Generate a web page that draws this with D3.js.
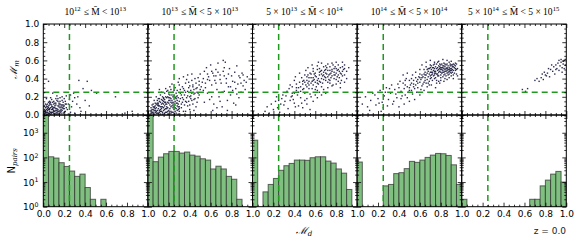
<!DOCTYPE html>
<html>
<head>
<meta charset="utf-8">
<script src="https://cdn.jsdelivr.net/npm/d3@7"></script>
<style>
  body { margin: 0; background: #fff; }
  svg { display: block; }
  text { font-family: "DejaVu Sans", sans-serif; }
</style>
</head>
<body>
<div id="chart"></div>
<script>
// panel titles (mass bins)
const titles = [
  "10^{12} ≤ M̄ < 10^{13}",
  "10^{13} ≤ M̄ < 5 × 10^{13}",
  "5 × 10^{13} ≤ M̄ < 10^{14}",
  "10^{14} ≤ M̄ < 5 × 10^{14}",
  "5 × 10^{14} ≤ M̄ < 5 × 10^{15}"
];

// histogram bin left edges (width 0.05)
const binStarts = [0, 0.05, 0.1, 0.15, 0.2, 0.25, 0.3, 0.35, 0.4, 0.45,
                   0.5, 0.55, 0.6, 0.65, 0.7, 0.75, 0.8, 0.85, 0.9, 0.95];
const binWidth = 0.05;

// N_pairs per bin, one list per panel
const counts1 = [20000, 106, 94, 61, 43, 28, 17, 21, 6, 2, 0, 2, 0, 0, 0, 0, 0, 0, 0, 0];
const counts2 = [20000, 67, 103, 141, 175, 175, 150, 165, 124, 113, 88, 78, 34, 44, 34, 17, 13, 2, 0, 0];
const counts3 = [500, 0, 4, 8, 14, 30, 46, 57, 78, 78, 76, 97, 106, 106, 71, 59, 34, 23, 5, 0];
const counts4 = [65, 0, 0, 0, 0, 7, 8, 22, 24, 35, 69, 63, 78, 100, 124, 145, 141, 120, 50, 8];
const counts5 = [2, 0, 0, 0, 0, 0, 0, 0, 0, 0, 0, 0, 0, 2, 2, 7, 12, 21, 27, 10];

// scatter points (M_d, M_m) in percent
const scatter1 = "1 1,2 3,3 1,4 5,5 2,6 4,7 1,8 6,9 3,10 2,11 8,12 5,13 1,14 4,15 9,16 3,17 6,18 11,19 2,20 7,2 8,3 6,5 10,6 7,7 12,8 3,9 9,10 5,11 13,12 2,13 7,14 10,15 4,16 12,17 9,18 5,19 14,20 10,21 15,22 8,1 4,2 2,3 9,4 1,5 6,6 11,7 3,8 9,9 14,10 8,11 4,12 11,13 16,14 6,15 13,16 8,17 2,18 16,19 7,21 4,4 12,6 15,8 17,10 12,12 18,14 15,16 19,18 20,20 18,22 21,24 12,25 17,27 9,23 6,26 22,3 3,4 7,6 2,7 8,9 6,11 1,13 3,15 1,17 11,19 11,2 5,1 2,5 14,3 18,1 10,7 19,9 24,13 21,28 15,30 19,32 12,29 24,33 20,35 8,5 37,34 38,42 37,38 29,46 27,51 24,69 20,78 2,85 4,40 16,44 10,26 3,24 1,36 4,30 2," +
  "2 4,4 3,6 6,8 2,10 4,12 7,14 2,16 5,18 8,20 3,3 11,5 8,7 14,9 7,11 10,13 5,15 11,17 4,19 9,21 12,1 6,2 12,4 9,6 13,8 11,10 15,12 13,14 18,16 15,22 12";
const scatter2 = "2 1,3 4,4 2,5 6,6 1,7 3,8 8,9 5,10 2,11 10,12 4,13 7,14 1,15 12,16 6,17 3,18 9,19 14,20 5,21 11,22 2,23 16,24 8,25 13,26 4,27 18,28 10,29 6,30 15,3 8,4 11,5 3,6 9,7 13,8 2,9 11,10 7,11 15,12 1,13 12,14 9,15 5,16 17,17 12,18 3,19 8,20 19,21 7,22 14,23 3,24 20,25 9,26 15,27 7,28 21,29 12,30 4,4 6,6 5,8 12,10 10,12 14,14 16,16 10,18 19,20 13,22 18,24 3,26 11,28 16,30 9,5 9,7 7,9 2,11 5,13 17,15 8,17 20,19 4,21 16,23 10,25 21,27 13,29 19,3 2,7 10,11 18,15 15,19 20,23 22,27 2,9 16,13 4,17 7,21 22,25 6,29 1,12 9,16 14,20 1,24 14,28 5,10 13,14 3,18 12,22 9,26 19,10 18,12 22,14 20,16 24,18 26,20 23,22 28,24 25,26 30,28 27,30 33,32 22,34 29,36 35,38 26,40 32,42 38,44 28,46 35,48 41,13 25,17 29,21 31,25 27,29 36,33 31,37 39,41 27,45 40,49 33,15 19,19 27,23 34,27 24,31 28,35 22,39 36,43 31,47 25,31 18,33 14,35 11,37 19,39 15,41 21,43 12,45 18,47 14,49 22,32 8,34 17,36 25,38 10,40 20,42 16,44 23,46 9,48 19,50 28,30 40,34 42,38 44,42 45,36 4,40 6,44 5,11 28,8 20,6 16,50 45,52 36,54 48,55 30,56 52,57 24,58 42,59 17,60 55,61 33,62 46,63 12,64 38,65 50,66 28,67 57,68 20,69 44,70 35,71 9,72 48,73 26,74 58,75 40,76 16,77 31,78 51,79 22,80 43,81 37,82 13,83 47,84 29,85 54,86 34,87 19,88 41,89 25,90 46,91 32,92 38,93 28,94 36,95 42,53 27,57 39,61 20,65 43,69 15,73 52,77 45,81 27,85 23,89 35,72 60,66 8,76 5,84 11,62 5,54 14," +
  "4 3,6 8,8 4,10 11,12 6,14 13,16 2,18 7,20 16,22 4,24 11,26 8,28 13,30 7,32 12,34 4,36 15,38 21,40 11,42 24,44 17,46 29,48 24,3 5,5 12,7 5,9 13,11 3,13 9,15 18,17 14,19 1,21 19,23 13,25 2,27 20,29 9,31 24,33 19,35 27,37 14,39 30,41 18,43 33,45 24,47 30,49 37,51 31,53 40,55 35,57 45,59 38,61 48,63 43,65 35,67 47,69 39,71 25,73 43,75 35,79 31,83 36,87 43,91 44";
const scatter3 = "12 4,14 9,16 2,18 12,20 6,22 15,24 8,26 3,28 18,30 11,32 21,34 7,36 16,38 24,40 13,42 27,44 10,46 19,31 15,27 12,33 26,37 20,41 9,35 29,39 17,43 22,29 22,25 16,47 13,23 20,44 30,46 26,48 34,50 24,52 38,54 29,56 41,58 33,60 36,62 27,64 44,66 31,68 47,70 38,72 42,74 35,76 50,78 40,80 46,82 37,84 52,86 43,88 55,90 48,45 36,47 41,49 29,51 33,53 44,55 23,57 37,59 45,61 31,63 40,65 48,67 35,69 42,71 52,73 39,75 46,77 33,79 53,81 42,83 48,85 38,87 50,49 38,53 35,57 29,61 42,65 36,69 49,73 44,77 55,81 49,85 45,55 46,59 39,63 34,67 43,71 45,75 41,79 44,83 41,50 44,54 37,58 48,62 50,66 40,70 54,74 49,78 47,82 44,86 53,48 28,52 31,56 35,60 28,64 37,68 39,72 36,76 43,80 39,84 35,88 44,60 46,64 51,68 53,72 56,76 57,80 58,58 51,62 54,66 57,70 50,74 53,78 51,82 55,86 58,90 40,92 52,56 20,60 22,64 25,68 28,72 30,76 32,80 34,84 30,88 36,52 18,58 15,62 19,66 22,70 24,45 46,40 38,42 34,38 31,36 33,41 42,51 49,53 52,57 55,63 58,48 8,52 12,55 6,50 16," +
  "50 36,52 42,54 33,56 45,58 38,60 43,62 38,64 47,66 45,68 44,70 41,72 49,74 45,76 48,78 44,80 51,82 50,84 46,86 48,88 51,48 37,46 31,44 25,42 30,40 24,38 21,54 41,66 49,70 46,74 38,62 35,58 41";
const scatter4 = "63 42,65 47,67 39,69 51,71 44,73 55,75 41,77 49,79 53,81 46,83 57,85 43,87 50,89 54,91 47,93 52,95 45,64 50,66 44,68 48,70 40,72 52,74 46,76 56,78 43,80 50,82 54,84 48,86 56,88 45,90 51,92 56,94 49,66 53,68 42,70 55,72 47,74 51,76 38,78 54,80 44,82 49,84 53,86 46,88 58,90 49,92 44,94 54,96 51,67 46,69 37,71 50,73 43,75 53,77 45,79 48,81 56,83 44,85 51,87 47,89 49,91 53,93 46,95 50,70 47,74 44,78 47,82 52,86 49,90 55,80 47,84 50,88 52,85 55,83 51,81 50,79 51,87 54,89 51,77 52,75 48,73 49,71 47,91 50,76 45,80 41,84 45,88 48,62 55,66 58,70 60,74 58,78 59,82 61,86 60,90 59,94 57,60 45,61 39,64 36,68 35,72 38,76 35,80 38,84 40,88 41,92 40,96 43,40 30,42 26,44 35,46 22,48 31,50 38,52 27,54 34,56 41,58 30,60 36,62 32,41 37,43 21,45 29,47 40,49 25,51 33,53 44,55 29,57 37,59 42,61 28,63 34,44 44,48 46,52 40,56 47,60 50,46 33,50 30,54 38,58 35,62 41,42 18,48 19,53 23,57 25,60 22,64 27,67 31,71 33,75 30,79 35,83 37,65 38,69 33,5 12,8 20,10 9,13 16,15 24,18 11,20 18,22 27,24 14,26 21,28 30,30 17,32 24,34 12,36 28,38 19,29 10,33 33,37 23,25 8,35 15,39 34,21 13,27 25,31 29,17 22,12 5,23 4,40 9,45 12,50 15,55 17," +
  "65 44,67 50,69 45,71 41,73 52,75 46,77 43,79 56,81 52,83 47,85 48,87 44,89 47,91 55,93 55,70 52,72 45,74 48,76 51,78 50,80 52,82 47,84 56,86 51,88 50,90 46,92 49,94 51,65 41,68 51,71 54,74 56,77 58,80 55,83 54,86 52,89 56,92 53,95 56,58 39,62 44,66 35,70 43,74 40,78 37,82 42,86 39,90 43,50 27,54 31,46 38,52 35,56 33,60 41,64 45";
const scatter5 = "58 28,61 26,63 29,70 38,72 40,74 37,76 41,78 39,80 44,82 46,84 42,85 50,87 48,88 53,89 45,90 55,91 51,92 57,93 49,94 54,95 58,96 52,97 56,98 60,99 55,86 55,90 50,93 60,96 47,98 51,83 51,81 43,79 47,77 45,95 61,97 59,99 61";

const countsAll = [counts1, counts2, counts3, counts4, counts5];
const scatterAll = [scatter1, scatter2, scatter3, scatter4, scatter5].map(s =>
  s.split(",").map(p => { const v = p.trim().split(" "); return [+v[0] / 100, +v[1] / 100]; }));

const xMajor = [0, 0.2, 0.4, 0.6, 0.8, 1.0];
const xMinor = [0.05, 0.1, 0.15, 0.25, 0.3, 0.35, 0.45, 0.5, 0.55, 0.65, 0.7, 0.75, 0.85, 0.9, 0.95];
const yMajor = [0, 0.2, 0.4, 0.6, 0.8, 1.0];
const yMinor = xMinor;
const logMajor = [1, 10, 100, 1000];
const logMinor = [2, 3, 4, 5, 6, 7, 8, 9, 20, 30, 40, 50, 60, 70, 80, 90,
                  200, 300, 400, 500, 600, 700, 800, 900, 2000, 3000, 4000, 5000];
const cutM = 0.25;
const logTop = 5250;

// layout
const W = 581, H = 244;
const left = 43.3, pw = 104.6;
const topY = 24, midY = 115, botY = 206.7;
const green = "#1f9a1f";

const svg = d3.select("#chart").append("svg").attr("width", W).attr("height", H);
const defs = svg.append("defs");

function richText(sel, str, size) {
  // split "a^{b}c" into tspans with superscripts
  const parts = str.split(/(\^\{[^}]*\})/).filter(s => s.length);
  parts.forEach(p => {
    if (p.startsWith("^{")) {
      sel.append("tspan").attr("dy", -size * 0.38).attr("font-size", size * 0.7).text(p.slice(2, -1));
      sel.append("tspan").attr("dy", size * 0.38).attr("font-size", size).text("\u200a");
    } else {
      sel.append("tspan").attr("font-size", size).text(p);
    }
  });
}

function ticksOn(g, axisFn, scale, values, size) {
  g.call(axisFn(scale).tickValues(values).tickSize(-size).tickFormat(""))
    .call(a => a.select(".domain").remove())
    .call(a => a.selectAll("line").attr("stroke", "#000").attr("stroke-width", 0.8));
}

countsAll.forEach((counts, i) => {
  const x0 = left + i * pw, x1 = x0 + pw;
  const x = d3.scaleLinear().domain([0, 1]).range([x0, x1]);
  const yS = d3.scaleLinear().domain([0, 1]).range([midY, topY]);
  const yH = d3.scaleLog().domain([1, logTop]).range([botY, midY]);

  defs.append("clipPath").attr("id", "ct" + i).append("rect")
    .attr("x", x0).attr("y", topY).attr("width", pw).attr("height", midY - topY);
  defs.append("clipPath").attr("id", "cb" + i).append("rect")
    .attr("x", x0).attr("y", midY).attr("width", pw).attr("height", botY - midY);

  // scatter
  const gs = svg.append("g").attr("clip-path", `url(#ct${i})`);
  gs.selectAll("rect").data(scatterAll[i]).join("rect")
    .attr("x", d => x(d[0]) - 0.7).attr("y", d => yS(d[1]) - 0.7)
    .attr("width", 1.4).attr("height", 1.4)
    .attr("fill", "#15153a").attr("opacity", 0.9);

  // histogram
  const gh = svg.append("g").attr("clip-path", `url(#cb${i})`);
  const bars = binStarts.map((b, k) => ({ b: b, n: counts[k] })).filter(d => d.n > 0);
  gh.selectAll("rect").data(bars).join("rect")
    .attr("x", d => x(d.b)).attr("width", x(binWidth) - x(0))
    .attr("y", d => yH(d.n)).attr("height", d => botY - yH(d.n) + 2)
    .attr("fill", "#7fbf7f").attr("stroke", "#2a2a2a").attr("stroke-opacity", 0.7).attr("stroke-width", 1);

  // cut lines
  [[topY, midY], [midY, botY]].forEach(([a, b]) => {
    svg.append("line").attr("x1", x(cutM)).attr("x2", x(cutM)).attr("y1", a).attr("y2", b)
      .attr("stroke", green).attr("stroke-width", 1.5).attr("stroke-dasharray", "6,4");
  });
  svg.append("line").attr("x1", x0).attr("x2", x1).attr("y1", yS(cutM)).attr("y2", yS(cutM))
    .attr("stroke", green).attr("stroke-width", 1.5).attr("stroke-dasharray", "6,4");

  // ticks, inward on every side
  [[topY, "axisTop"], [midY, "axisBottom"], [midY, "axisTop"], [botY, "axisBottom"]].forEach(([yy, fn]) => {
    const g1 = svg.append("g").attr("transform", `translate(0,${yy})`);
    ticksOn(g1, d3[fn], x, xMajor, 4);
    const g2 = svg.append("g").attr("transform", `translate(0,${yy})`);
    ticksOn(g2, d3[fn], x, xMinor, 2);
  });
  [[x0, "axisLeft"], [x1, "axisRight"]].forEach(([xx, fn]) => {
    const g = svg.append("g").attr("transform", `translate(${xx},0)`);
    ticksOn(g.append("g"), d3[fn], yS, yMajor, 4);
    ticksOn(g.append("g"), d3[fn], yS, yMinor, 2);
    ticksOn(g.append("g"), d3[fn], yH, logMajor, 4);
    ticksOn(g.append("g"), d3[fn], yH, logMinor, 2);
  });

  // frames
  [[topY, midY], [midY, botY]].forEach(([a, b]) => {
    svg.append("rect").attr("x", x0).attr("y", a).attr("width", pw).attr("height", b - a)
      .attr("fill", "none").attr("stroke", "#000").attr("stroke-width", 1);
  });

  // bottom tick labels
  const labs = i === 0 ? xMajor : xMajor.slice(1);
  const gx = svg.append("g").attr("transform", `translate(0,${botY})`)
    .call(d3.axisBottom(x).tickValues(labs).tickSize(0).tickPadding(4).tickFormat(d3.format(".1f")));
  gx.select(".domain").remove();
  gx.selectAll("text").attr("font-size", 9).attr("font-family", "DejaVu Sans").attr("fill", "#000");

  // title
  const t = svg.append("text").attr("x", (x0 + x1) / 2).attr("y", 15)
    .attr("text-anchor", "middle").style("font-family", "'Liberation Serif', 'DejaVu Serif', serif");
  richText(t, titles[i], 9.5);

  if (i === 0) {
    const gy = svg.append("g").attr("transform", `translate(${x0},0)`)
      .call(d3.axisLeft(yS).tickValues(yMajor).tickSize(0).tickPadding(4).tickFormat(d3.format(".1f")));
    gy.select(".domain").remove();
    gy.selectAll("text").attr("font-size", 9).attr("fill", "#000");

    const gl = svg.append("g").attr("transform", `translate(${x0},0)`)
      .call(d3.axisLeft(yH).tickValues(logMajor).tickSize(0).tickPadding(4).tickFormat(""));
    gl.select(".domain").remove();
    gl.selectAll("text").attr("fill", "#000").attr("dy", "0.32em").each(function(d) {
      richText(d3.select(this), "10^{" + Math.round(Math.log10(d)) + "}", 9);
    });
  }
});

// axis labels
const lx = svg.append("text").attr("x", 304).attr("y", 234).attr("text-anchor", "middle")
  .style("font-family", "'DejaVu Serif', serif").style("font-style", "italic");
lx.append("tspan").attr("font-size", 10).text("ℳ");
lx.append("tspan").attr("font-size", 7).attr("dy", 2).text("d");

const lm = svg.append("text").attr("transform", `translate(17,${(topY + midY) / 2}) rotate(-90)`)
  .attr("text-anchor", "middle").style("font-family", "'DejaVu Serif', serif").style("font-style", "italic");
lm.append("tspan").attr("font-size", 10).text("ℳ");
lm.append("tspan").attr("font-size", 7).attr("dy", 2).text("m");

const ln = svg.append("text").attr("transform", `translate(15,${(midY + botY) / 2}) rotate(-90)`)
  .attr("text-anchor", "middle");
ln.append("tspan").attr("font-size", 10).text("N");
ln.append("tspan").attr("font-size", 7).attr("dy", 2).style("font-style", "italic")
  .style("font-family", "'DejaVu Serif', serif").text("pairs");

svg.append("text").attr("x", 566).attr("y", 234).attr("text-anchor", "end")
  .attr("font-size", 9).attr("fill", "#222").text("z = 0.0");
</script>
</body>
</html>
